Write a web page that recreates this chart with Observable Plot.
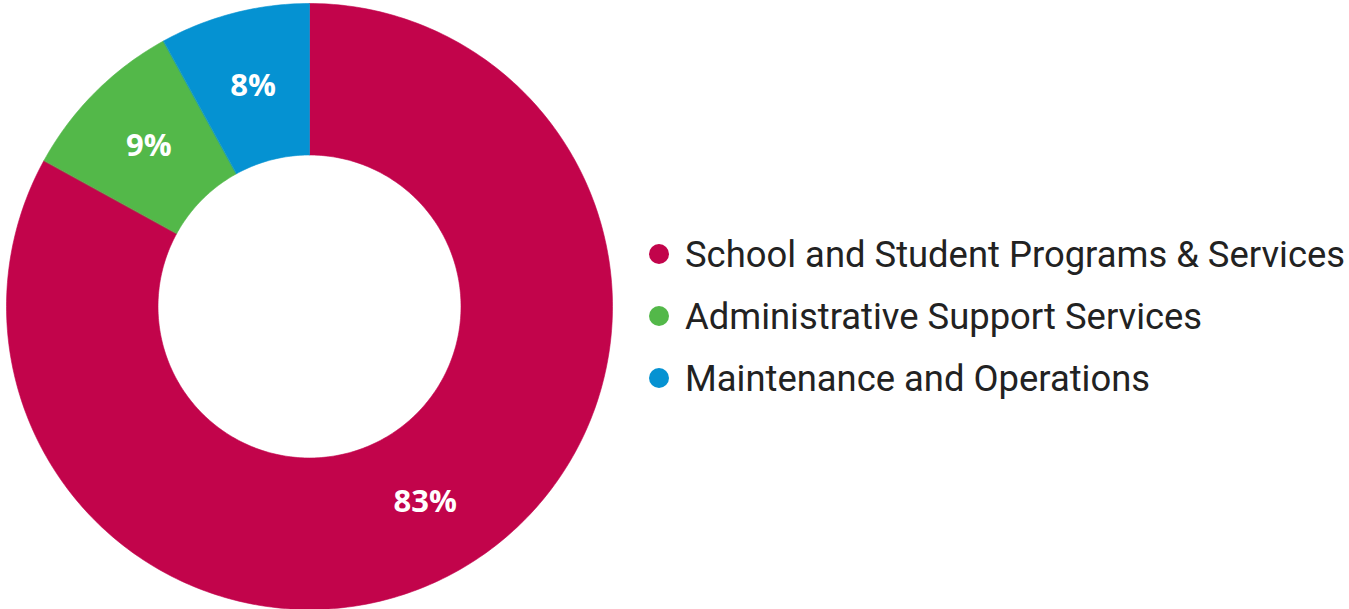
<!DOCTYPE html>
<html>
<head>
<meta charset="utf-8">
<script src="https://cdn.jsdelivr.net/npm/d3@7"></script>
<script src="https://cdn.jsdelivr.net/npm/@observablehq/plot@0.6"></script>
<style>
  html, body { margin: 0; padding: 0; background: #fff; }
  #wrap { position: relative; width: 1349px; height: 609px; overflow: hidden; }
  #legend { position: absolute; left: 649px; top: 0; font-family: Roboto, sans-serif; font-size: 36.4px; color: #222; }
  .item { position: absolute; left: 0; white-space: nowrap; display: flex; align-items: center; height: 44px; }
  .sw { width: 20px; height: 20px; border-radius: 50%; margin-right: 16px; flex: none; }
</style>
</head>
<body>
<div id="wrap"><div id="legend"></div></div>
<script>
const categories = ["School and Student Programs & Services", "Administrative Support Services", "Maintenance and Operations"];
const values = [83, 9, 8];
const labels = ["83%", "9%", "8%"];
const colors = ["#C2044B", "#53B849", "#0592D2"];
const innerRatio = 0.5;

// Build slice outlines from the data (angles measured clockwise from 12 o'clock)
const total = d3.sum(values);
const rows = [];
const centroids = [];
let acc = 0;
values.forEach((v, i) => {
  const a0 = acc / total * 2 * Math.PI;
  acc += v;
  const a1 = acc / total * 2 * Math.PI;
  const n = Math.max(8, Math.round(v * 4));
  for (let k = 0; k <= n; k++) {
    const a = a0 + (a1 - a0) * k / n;
    rows.push({category: categories[i], x: Math.sin(a), y: Math.cos(a)});
  }
  for (let k = n; k >= 0; k--) {
    const a = a0 + (a1 - a0) * k / n;
    rows.push({category: categories[i], x: innerRatio * Math.sin(a), y: innerRatio * Math.cos(a)});
  }
  const am = (a0 + a1) / 2, rm = (1 + innerRatio) / 2;
  centroids.push({label: labels[i], x: rm * Math.sin(am), y: rm * Math.cos(am)});
});

const chart = Plot.plot({
  width: 1349,
  height: 609,
  margin: 0,
  style: {background: "transparent"},
  x: {domain: [-1, 1], range: [6, 612], axis: null},
  y: {domain: [-1, 1], range: [609, 3], axis: null},
  color: {domain: categories, range: colors},
  marks: [
    Plot.line(rows, {x: "x", y: "y", z: "category", fill: "category", stroke: "category", strokeWidth: 0.6, curve: "linear-closed"}),
    Plot.text(centroids, {x: "x", y: "y", text: "label", fill: "white", fontSize: 31, fontWeight: "bold", fontFamily: "'Open Sans', sans-serif"})
  ]
});
document.getElementById("wrap").prepend(chart);

const legend = document.getElementById("legend");
const legendY = [254, 316, 378];
categories.forEach((c, i) => {
  const it = document.createElement("div");
  it.className = "item";
  it.style.top = (legendY[i] - 22) + "px";
  const sw = document.createElement("span");
  sw.className = "sw";
  sw.style.background = colors[i];
  const t = document.createElement("span");
  t.textContent = c;
  it.append(sw, t);
  legend.append(it);
});
</script>
</body>
</html>
